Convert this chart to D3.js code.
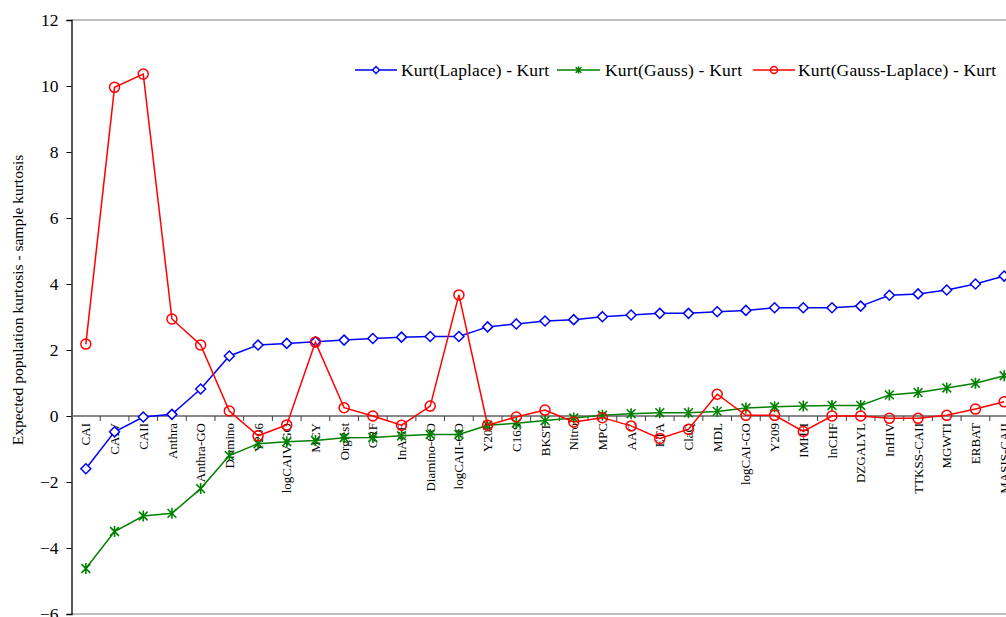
<!DOCTYPE html>
<html>
<head>
<meta charset="utf-8">
<script src="https://cdn.jsdelivr.net/npm/d3@7"></script>
<style>
  body { margin: 0; background: #fff; }
  svg { display: block; font-family: "Liberation Serif", "Times New Roman", serif; }
</style>
</head>
<body>
<div class="js-canvas"></div>
<script>
'use strict';

// categories along the x axis
const categories = ['CAI', 'CAIV', 'CAII', 'Anthra', 'Anthra-GO', 'Diamino', 'Y206', 'logCAIV-GO',
    'MCY', 'OrgRst', 'GRF', 'InAGE', 'Diamino-GO', 'logCAII-GO', 'Y208', 'C16S', 'BKST', 'Nitro',
    'MPC', 'AAC', 'ETA', 'ClaQ', 'MDL', 'logCAI-GO', 'Y209', 'IMHH', 'lnCHF', 'DZGALYL', 'InHIV',
    'TTKSS-CAII', 'MGWTI', 'ERBAT', 'MASIS-CAII'];

const laplace = [-1.60, -0.48, -0.03, 0.05, 0.82, 1.82, 2.15, 2.20, 2.25, 2.30, 2.35, 2.39, 2.41,
    2.41, 2.70, 2.79, 2.88, 2.92, 3.01, 3.06, 3.11, 3.11, 3.16, 3.20, 3.28, 3.28, 3.28, 3.33, 3.66,
    3.70, 3.82, 4.00, 4.24];

const gauss = [-4.62, -3.50, -3.03, -2.95, -2.20, -1.20, -0.84, -0.78, -0.74, -0.66, -0.65, -0.60,
    -0.56, -0.56, -0.28, -0.22, -0.14, -0.06, 0.02, 0.07, 0.10, 0.10, 0.14, 0.24, 0.28, 0.30, 0.32,
    0.32, 0.64, 0.71, 0.85, 0.99, 1.22];

const gaussLaplace = [2.18, 9.96, 10.36, 2.94, 2.15, 0.15, -0.60, -0.27, 2.24, 0.25, 0.00, -0.28,
    0.30, 3.67, -0.28, -0.03, 0.18, -0.18, -0.05, -0.30, -0.68, -0.40, 0.66, 0.02, 0.02, -0.47,
    0.00, 0.00, -0.07, -0.07, 0.02, 0.21, 0.43];

const yTicks = [-6, -4, -2, 0, 2, 4, 6, 8, 10, 12];

const seriesNames = ['Kurt(Laplace) - Kurt', 'Kurt(Gauss) - Kurt', 'Kurt(Gauss-Laplace) - Kurt'];

const config = {
    width: 1006,
    height: 617,
    left: 71.5,
    top: 20,
    plotWidth: 947,   // runs past the right edge of the window, as in the picture
    plotHeight: 594
};

const series = [
    { name: seriesNames[0], values: laplace, color: '#0000ff', marker: 'diamond' },
    { name: seriesNames[1], values: gauss, color: '#008000', marker: 'star' },
    { name: seriesNames[2], values: gaussLaplace, color: '#ff0000', marker: 'circle' }
];

const svg = d3.select('.js-canvas')
    .append('svg')
    .attr('width', config.width)
    .attr('height', config.height);

const x = d3.scaleBand()
    .domain(categories)
    .range([config.left, config.left + config.plotWidth])
    .padding(0);

const y = d3.scaleLinear()
    .domain([-6, 12])
    .range([config.top + config.plotHeight, config.top]);

const cx = d => x(d) + x.bandwidth() / 2;

// plot area border (top / bottom grey)
svg.append('line')
    .attr('x1', config.left).attr('x2', config.left + config.plotWidth)
    .attr('y1', y(12)).attr('y2', y(12))
    .attr('stroke', '#808080').attr('stroke-width', 1);
svg.append('line')
    .attr('x1', config.left).attr('x2', config.left + config.plotWidth)
    .attr('y1', y(-6)).attr('y2', y(-6))
    .attr('stroke', '#808080').attr('stroke-width', 1);

// y axis
const yAxis = d3.axisLeft(y)
    .tickValues(yTicks)
    .tickSize(5)
    .tickPadding(8)
    .tickFormat(d3.format('d'));

const yAxisGroup = svg.append('g')
    .attr('transform', `translate(${config.left}, 0)`)
    .call(yAxis)
    .attr('font-family', null)
    .attr('font-size', null);
yAxisGroup.select('.domain').attr('stroke', '#000').attr('stroke-width', 1.3);
yAxisGroup.selectAll('.tick line').attr('stroke', '#000');
yAxisGroup.selectAll('.tick text')
    .attr('font-size', 17.5)
    .attr('fill', '#000');

// x axis on the zero line, ticks between categories
const xAxisGroup = svg.append('g')
    .attr('transform', `translate(0, ${y(0)})`);
xAxisGroup.append('line')
    .attr('x1', config.left).attr('x2', config.left + config.plotWidth)
    .attr('stroke', '#606060').attr('stroke-width', 1.3);
xAxisGroup.selectAll('.xtick')
    .data(categories.slice(1))
    .enter()
    .append('line')
    .attr('class', 'xtick')
    .attr('x1', d => x(d)).attr('x2', d => x(d))
    .attr('y1', 0).attr('y2', 5)
    .attr('stroke', '#404040');
xAxisGroup.selectAll('.xlabel')
    .data(categories)
    .enter()
    .append('text')
    .attr('class', 'xlabel')
    .attr('transform', d => `translate(${cx(d)}, 7) rotate(-90)`)
    .attr('dy', '0.35em')
    .attr('text-anchor', 'end')
    .attr('font-size', 13)
    .text(d => d);

// y axis title
svg.append('text')
    .attr('transform', 'translate(18, 300) rotate(-90)')
    .attr('dy', '0.35em')
    .attr('text-anchor', 'middle')
    .attr('font-size', 15.5)
    .text('Expected population kurtosis - sample kurtosis');

// marker drawing
const drawMarker = (sel, type, color, s) => {
    if (type === 'diamond') {
        sel.append('path')
            .attr('d', `M0,${-s}L${s},0L0,${s}L${-s},0Z`)
            .attr('fill', '#fff').attr('stroke', color).attr('stroke-width', 1.5);
    } else if (type === 'circle') {
        sel.append('circle')
            .attr('r', s)
            .attr('fill', 'none').attr('stroke', color).attr('stroke-width', 1.5);
    } else {
        const k = s * 0.8;
        sel.append('path')
            .attr('d', `M0,${-s}V${s}M${-k},${-k}L${k},${k}M${-k},${k}L${k},${-k}`)
            .attr('fill', 'none').attr('stroke', color).attr('stroke-width', 1.6);
    }
};

const line = d3.line()
    .x((d, i) => cx(categories[i]))
    .y(d => y(d));

const markerSize = { diamond: 5, star: 5.5, circle: 5 };

series.forEach(s => {
    svg.append('path')
        .datum(s.values)
        .attr('d', line)
        .attr('fill', 'none')
        .attr('stroke', s.color)
        .attr('stroke-width', 1.5);

    svg.selectAll(null)
        .data(s.values)
        .enter()
        .append('g')
        .attr('transform', (d, i) => `translate(${cx(categories[i])}, ${y(d)})`)
        .each(function () {
            drawMarker(d3.select(this), s.marker, s.color, markerSize[s.marker]);
        });
});

// legend
const legendItems = [
    { x: 355, len: 42, textX: 401, textW: 148 },
    { x: 557, len: 43, textX: 605, textW: 137 },
    { x: 753, len: 42, textX: 798, textW: 198 }
];
const legend = svg.append('g').attr('transform', 'translate(0, 70)');
series.forEach((s, i) => {
    const it = legendItems[i];
    const item = legend.append('g').attr('transform', `translate(${it.x}, 0)`);
    item.append('line')
        .attr('x1', 0).attr('x2', it.len)
        .attr('stroke', s.color).attr('stroke-width', 1.5);
    const m = item.append('g').attr('transform', `translate(${it.len / 2}, 0)`);
    drawMarker(m, s.marker, s.color, 3.5);
    legend.append('text')
        .attr('x', it.textX)
        .attr('dy', '0.35em')
        .attr('font-size', 17.5)
        .attr('textLength', it.textW)
        .attr('lengthAdjust', 'spacing')
        .text(s.name);
});
</script>
</body>
</html>
